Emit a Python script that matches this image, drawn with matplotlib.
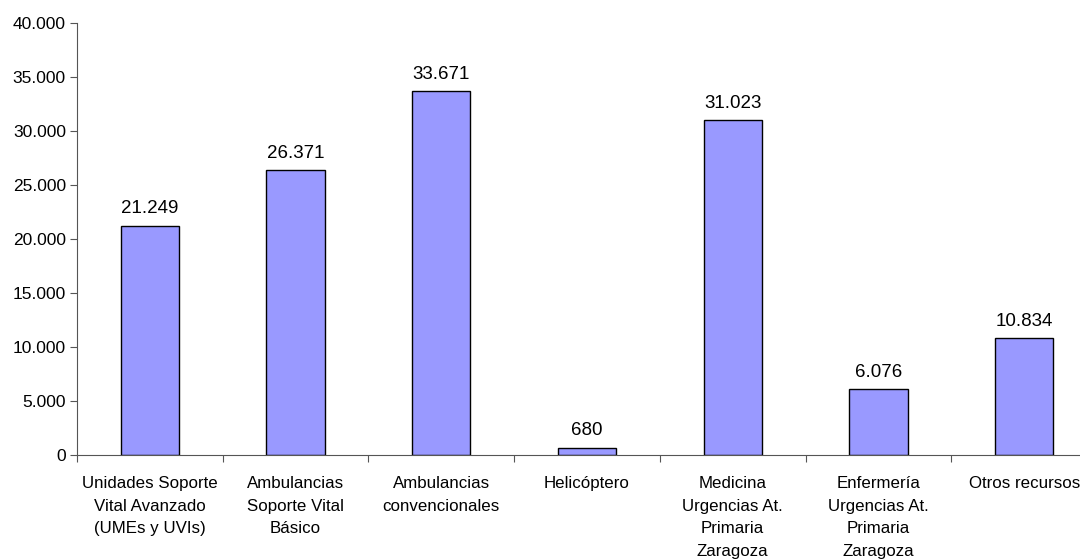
import matplotlib
matplotlib.use('Agg')
import matplotlib.pyplot as plt
from matplotlib.ticker import FuncFormatter, FixedLocator
import numpy as np

plt.rcParams['font.family'] = ['Liberation Sans', 'DejaVu Sans']

categorias = [
    'Unidades Soporte\nVital Avanzado\n(UMEs y UVIs)',
    'Ambulancias\nSoporte Vital\nBásico',
    'Ambulancias\nconvencionales',
    'Helicóptero',
    'Medicina\nUrgencias At.\nPrimaria\nZaragoza',
    'Enfermería\nUrgencias At.\nPrimaria\nZaragoza',
    'Otros recursos',
]
valores = [21249, 26371, 33671, 680, 31023, 6076, 10834]
yticks = [0, 5000, 10000, 15000, 20000, 25000, 30000, 35000, 40000]


def miles(v, pos=None):
    return f'{int(v):,}'.replace(',', '.')


W, H = 1080, 560
fig = plt.figure(figsize=(W / 100, H / 100), dpi=100)
# el eje sigue más allá del borde derecho, como en el original
left, right, bottom, top = 77, 1097, 455, 23
ax = fig.add_axes([left / W, 1 - bottom / H, (right - left) / W, (bottom - top) / H])

x = np.arange(len(valores))
ax.bar(x, valores, width=0.40, color='#9999FF', edgecolor='black', linewidth=1.0)

for xi, v in zip(x, valores):
    ax.annotate(miles(v), (xi, v), xytext=(0, 6), textcoords='offset points',
                ha='center', va='bottom', fontsize=13.5)

ax.set_xlim(-0.5, len(valores) - 0.5)
ax.set_ylim(0, 40000)
ax.set_yticks(yticks)
ax.yaxis.set_major_formatter(FuncFormatter(miles))

ax.xaxis.set_major_locator(FixedLocator(np.arange(len(valores) + 1) - 0.5))
ax.xaxis.set_major_formatter(FuncFormatter(lambda v, p: ''))
ax.xaxis.set_minor_locator(FixedLocator(x))
ax.set_xticklabels(categorias, minor=True)
ax.tick_params(axis='x', which='minor', length=0, pad=15, labelsize=12.2, colors='black')
ax.tick_params(axis='x', which='major', length=5, direction='out', color='#555555')
ax.tick_params(axis='y', length=5, direction='out', labelsize=12.5, color='#555555', pad=3)
for lab in ax.get_xticklabels(minor=True):
    lab.set_linespacing(1.65)
    lab.set_va('top')

for s in ['top', 'right']:
    ax.spines[s].set_visible(False)
ax.spines['left'].set_color('#555555')
ax.spines['bottom'].set_color('#555555')

fig.savefig('out.png', dpi=100)
